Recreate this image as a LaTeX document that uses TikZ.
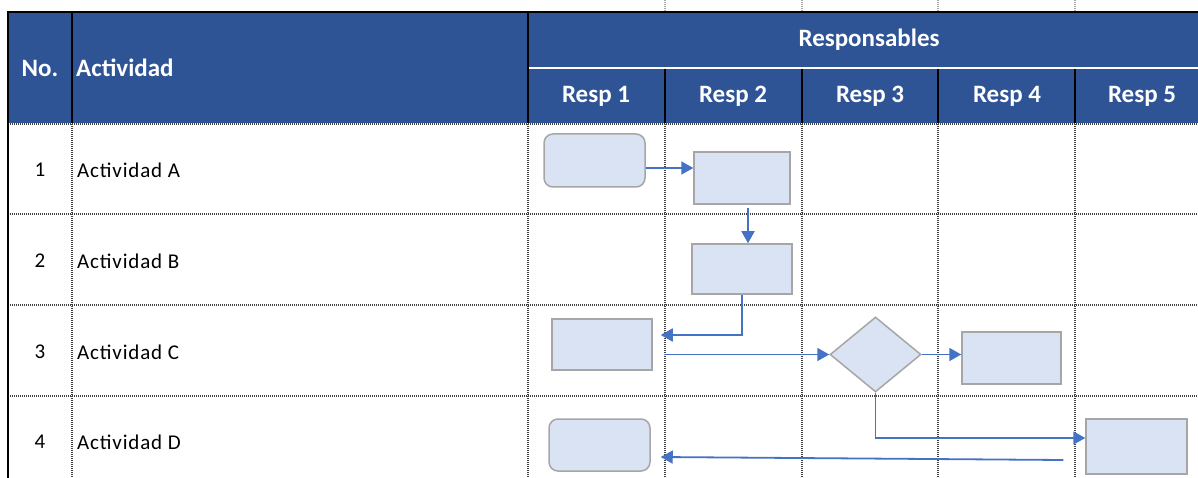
\documentclass[tikz,border=0pt]{standalone}
\usepackage{fontspec}
\setmainfont{Carlito}
\newfontfamily\cellfont{Carlito}[LetterSpace=4]
\usetikzlibrary{shapes.geometric, arrows.meta, positioning}
\definecolor{headblue}{HTML}{2F5496}
\definecolor{boxfill}{HTML}{DAE3F3}
\definecolor{boxline}{HTML}{A6A6A6}
\definecolor{flowblue}{HTML}{4472C4}

\begin{document}
\begin{tikzpicture}[
    x=1pt, y=-1pt,
    head/.style={text=white, font=\fontsize{25}{29}\selectfont\bfseries, inner sep=0pt},
    cell/.style={font=\fontsize{21}{25}\selectfont\cellfont, inner sep=0pt},
    task/.style={rectangle, draw=boxline, line width=1.5pt, fill=boxfill, minimum width=98pt, minimum height=51pt, inner sep=0pt},
    roundtask/.style={task, rounded corners=9pt},
    decision/.style={diamond, draw=boxline, line width=1.5pt, fill=boxfill, minimum width=91pt, minimum height=75pt, inner sep=0pt},
    gridline/.style={black!75, line width=1.2pt, dash pattern=on 1pt off 1pt},
    rule/.style={black, line width=2pt},
    flow/.style={flowblue, line width=1.8pt, -{Triangle[length=12pt, width=13pt]}}
]
    \useasboundingbox (0,0) rectangle (1198,478);

    % body grid
    \draw [gridline] (8,124) -- (1198,124);
    \draw [gridline] (8,214) -- (1198,214);
    \draw [gridline] (8,305) -- (1198,305);
    \draw [gridline] (8,396) -- (1198,396);
    \draw [gridline] (72,124) -- (72,478);
    \draw [gridline] (528,124) -- (528,478);
    \draw [gridline] (665,124) -- (665,478);
    \draw [gridline] (802,124) -- (802,478);
    \draw [gridline] (938,124) -- (938,478);
    \draw [gridline] (1075,124) -- (1075,478);
    \draw [gridline, black!35] (665,0) -- (665,12) (802,0) -- (802,12) (938,0) -- (938,12) (1075,0) -- (1075,12);

    % header
    \fill [headblue] (8,12) rectangle (1198,123);
    \draw [white, line width=2pt] (528,68) -- (1198,68);
    \draw [rule] (72,12) -- (72,123);
    \draw [rule] (528,12) -- (528,123);
    \draw [rule] (665,69) -- (665,123);
    \draw [rule] (802,69) -- (802,123);
    \draw [rule] (938,69) -- (938,123);
    \draw [rule] (1075,69) -- (1075,123);
    \draw [black, line width=2.5pt] (8,12) -- (1198,12);
    \draw [black, line width=2.5pt] (8,11) -- (8,478);

    \node (no) [head] at (40,68) {No.};
    \node (act) [head, anchor=west] at (76,68) {Actividad};
    \node (resp) [head] at (869,40) {Responsables};
    \node (r1) [head] at (596,96) {Resp 1};
    \node (r2) [head] at (733,96) {Resp 2};
    \node (r3) [head] at (870,96) {Resp 3};
    \node (r4) [head] at (1007,96) {Resp 4};
    \node (r5) [head] at (1142,96) {Resp 5};

    % rows
    \node (n1) [cell] at (40,170) {1};
    \node (n2) [cell] at (40,261) {2};
    \node (n3) [cell] at (40,352) {3};
    \node (n4) [cell] at (40,442) {4};
    \node (t1) [cell, anchor=west] at (77,170) {Actividad A};
    \node (t2) [cell, anchor=west] at (77,261) {Actividad B};
    \node (t3) [cell, anchor=west] at (77,352) {Actividad C};
    \node (t4) [cell, anchor=west] at (77,442) {Actividad D};

    % flow shapes
    \node (a1) [roundtask, minimum width=101pt, minimum height=53pt] at (594.5,160.5) {};
    \node (a2) [task, minimum width=96pt, minimum height=52pt] at (742,178) {};
    \node (b2) [task, minimum width=100pt, minimum height=50pt] at (742,269) {};
    \node (c1) [task, minimum width=100pt] at (602,344.5) {};
    \node (c3) [decision] at (875.5,354.5) {};
    \node (c4) [task, minimum width=99pt, minimum height=52pt] at (1011.5,358) {};
    \node (d5) [task, minimum width=101pt, minimum height=55pt] at (1136.5,446.5) {};
    \node (d1) [roundtask, minimum width=101pt, minimum height=52pt] at (599.5,445) {};

    \draw [flow] ([yshift=-7.5]a1.east) -- ([yshift=-7.5]a1.east -| a2.west);
    \draw [flow] ([xshift=6,yshift=-3]a2.south) -- ([xshift=6]b2.north);
    \draw [flow] (b2.south) |- ([xshift=8,yshift=9.5]c1.east);
    \draw [flow] ([xshift=11]c1.east |- c3.west) -- (c3.west);
    \draw [flow] (c3.east) -- (c3.east -| c4.west);
    \draw [flow] (c3.south) |- ([yshift=8.5]d5.west);
    \draw [flow] ([xshift=-22,yshift=-13.5]d5.west) -- ([xshift=10,yshift=-12]d1.east);
\end{tikzpicture}
\end{document}
